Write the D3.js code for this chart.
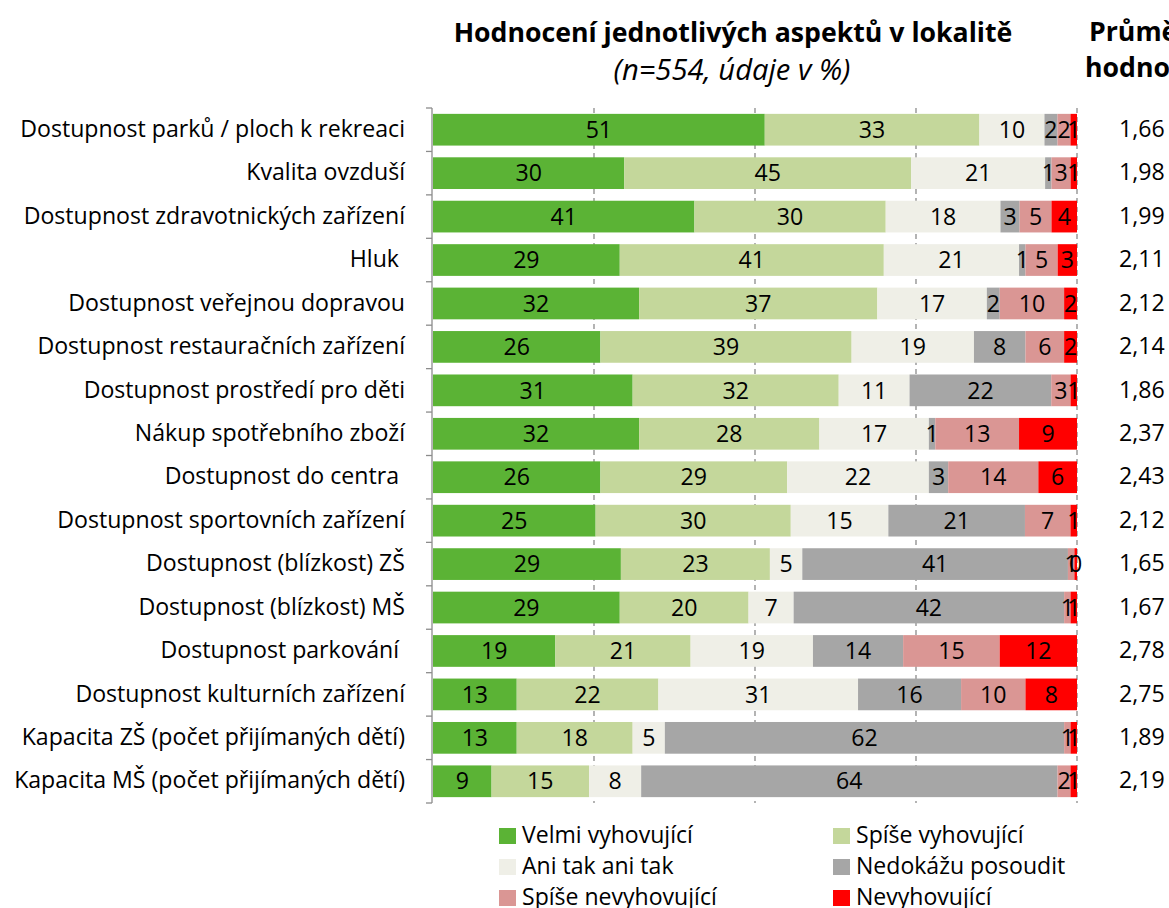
<!DOCTYPE html>
<html>
<head>
<meta charset="utf-8">
<script src="https://cdn.jsdelivr.net/npm/d3@7"></script>
<style>
  body { margin: 0; background: #fff; }
  svg { display: block; font-family: "Open Sans", Lato, sans-serif; }
</style>
</head>
<body>
<div id="chart"></div>
<script>
// categories (top to bottom)
const categories = [
    "Dostupnost parků / ploch k rekreaci",
    "Kvalita ovzduší",
    "Dostupnost zdravotnických zařízení",
    "Hluk ",
    "Dostupnost veřejnou dopravou",
    "Dostupnost restauračních zařízení",
    "Dostupnost prostředí pro děti",
    "Nákup spotřebního zboží",
    "Dostupnost do centra ",
    "Dostupnost sportovních zařízení",
    "Dostupnost (blízkost) ZŠ",
    "Dostupnost (blízkost) MŠ",
    "Dostupnost parkování ",
    "Dostupnost kulturních zařízení",
    "Kapacita ZŠ (počet přijímaných dětí)",
    "Kapacita MŠ (počet přijímaných dětí)"
];

const seriesNames = ["Velmi vyhovující", "Spíše vyhovující", "Ani tak ani tak",
    "Nedokážu posoudit", "Spíše nevyhovující", "Nevyhovující"];
const colors = ["#5bb335", "#c4d79b", "#efefe7", "#a6a6a6", "#da9694", "#ff0000"];

// one array per series, same order as categories
const velmi = [51, 30, 41, 29, 32, 26, 31, 32, 26, 25, 29, 29, 19, 13, 13, 9];
const spiseVyh = [33, 45, 30, 41, 37, 39, 32, 28, 29, 30, 23, 20, 21, 22, 18, 15];
const aniTak = [10, 21, 18, 21, 17, 19, 11, 17, 22, 15, 5, 7, 19, 31, 5, 8];
const nedokazu = [2, 1, 3, 1, 2, 8, 22, 1, 3, 21, 41, 42, 14, 16, 62, 64];
const spiseNevyh = [2, 3, 5, 5, 10, 6, 3, 13, 14, 7, 1, 1, 15, 10, 1, 2];
const nevyh = [1, 1, 4, 3, 2, 2, 1, 9, 6, 1, 0.4, 1, 12, 8, 1, 1];

const averages = ["1,66", "1,98", "1,99", "2,11", "2,12", "2,14", "1,86", "2,37",
    "2,43", "2,12", "1,65", "1,67", "2,78", "2,75", "1,89", "2,19"];

const gridTicks = [0.25, 0.5, 0.75, 1];

const width = 1169, height = 908;
const margin = { top: 108, right: 91, bottom: 105, left: 433 };

const series = [velmi, spiseVyh, aniTak, nedokazu, spiseNevyh, nevyh];

// build rows and normalise to 100 % like excel does
const rows = categories.map((c, i) => {
    const vals = series.map(s => s[i]);
    const total = d3.sum(vals);
    let acc = 0;
    return {
        cat: c,
        segs: vals.map((v, k) => {
            const seg = { key: k, value: v, x0: acc / total, x1: (acc + v) / total };
            acc += v;
            return seg;
        })
    };
});

const svg = d3.select("#chart")
    .append("svg")
    .attr("width", width)
    .attr("height", height);

// pick a font size so a sample string gets the width seen in the picture
function fitSize(sample, target, weight, style) {
    const t = svg.append("text")
        .style("font-size", "20px")
        .style("font-weight", weight || "normal")
        .style("font-style", style || "normal")
        .text(sample);
    const w = t.node().getComputedTextLength();
    t.remove();
    return 20 * target / w;
}

const labelSize = fitSize("Dostupnost parků / ploch k rekreaci", 385);
const titleSize = fitSize("Hodnocení jednotlivých aspektů v lokalitě", 559, "bold");
const subSize = fitSize("(n=554, údaje v %)", 237, "normal", "italic");
const legendSize = fitSize("Velmi vyhovující", 171);

const x = d3.scaleLinear()
    .domain([0, 1])
    .range([margin.left, width - margin.right - 1]);

const y = d3.scaleBand()
    .domain(categories)
    .range([margin.top, height - margin.bottom])
    .paddingInner(0.27)
    .paddingOuter(0.135);

// dashed vertical gridlines
svg.append("g")
    .selectAll("line")
    .data(gridTicks)
    .join("line")
    .attr("x1", d => x(d)).attr("x2", d => x(d))
    .attr("y1", margin.top).attr("y2", height - margin.bottom)
    .attr("stroke", "#8c8c8c")
    .attr("stroke-width", 1.3)
    .attr("stroke-dasharray", "5,4");

// bars
let bar = svg.selectAll(".bar")
    .data(rows)
    .join("g")
    .attr("class", "bar")
    .attr("transform", d => `translate(0,${y(d.cat)})`);

bar.selectAll("rect")
    .data(d => d.segs)
    .join("rect")
    .attr("x", d => x(d.x0))
    .attr("width", d => x(d.x1) - x(d.x0))
    .attr("height", y.bandwidth())
    .attr("fill", d => colors[d.key]);

bar.selectAll("text")
    .data(d => d.segs)
    .join("text")
    .text(d => Math.round(d.value))
    .attr("x", d => (x(d.x0) + x(d.x1)) / 2)
    .attr("y", y.bandwidth() / 2 + 2)
    .attr("text-anchor", "middle")
    .attr("dominant-baseline", "middle")
    .style("font-size", labelSize + "px")
    .style("fill", "#000");

// left axis with category boundary ticks
const axisG = svg.append("g");
axisG.append("line")
    .attr("x1", margin.left - 1).attr("x2", margin.left - 1)
    .attr("y1", margin.top).attr("y2", height - margin.bottom)
    .attr("stroke", "#8c8c8c").attr("stroke-width", 1.3);
const bounds = d3.range(categories.length + 1).map(i => margin.top + i * y.step());
axisG.selectAll(".tk")
    .data(bounds)
    .join("line")
    .attr("class", "tk")
    .attr("x1", margin.left - 7).attr("x2", margin.left - 1)
    .attr("y1", d => d).attr("y2", d => d)
    .attr("stroke", "#8c8c8c").attr("stroke-width", 1.3);

// category labels
svg.append("g")
    .selectAll("text")
    .data(categories)
    .join("text")
    .text(d => d)
    .attr("x", 405)
    .attr("y", d => y(d) + y.bandwidth() / 2 + 1)
    .attr("text-anchor", "end")
    .attr("dominant-baseline", "middle")
    .attr("xml:space", "preserve")
    .style("font-size", labelSize + "px");

// averages column
svg.append("g")
    .selectAll("text")
    .data(averages)
    .join("text")
    .text(d => d)
    .attr("x", 1119)
    .attr("y", (d, i) => y(categories[i]) + y.bandwidth() / 2 + 1)
    .attr("dominant-baseline", "middle")
    .style("font-size", labelSize + "px");

// titles
svg.append("text")
    .attr("x", 733).attr("y", 42)
    .attr("text-anchor", "middle")
    .style("font-size", titleSize + "px").style("font-weight", "bold")
    .text("Hodnocení jednotlivých aspektů v lokalitě");

svg.append("text")
    .attr("x", 732).attr("y", 80)
    .attr("text-anchor", "middle")
    .style("font-size", subSize + "px").style("font-style", "italic")
    .text("(n=554, údaje v %)");

svg.append("text")
    .attr("x", 1089).attr("y", 41)
    .style("font-size", titleSize + "px").style("font-weight", "bold")
    .text("Průměrná");
svg.append("text")
    .attr("x", 1085).attr("y", 77)
    .style("font-size", titleSize + "px").style("font-weight", "bold")
    .text("hodnota");

// legend
const legend = svg.append("g")
    .selectAll("g")
    .data(seriesNames)
    .join("g")
    .attr("transform", (d, i) => `translate(${i % 2 === 0 ? 499 : 833},${836 + Math.floor(i / 2) * 31})`);

legend.append("rect")
    .attr("x", 0).attr("y", -8)
    .attr("width", 17).attr("height", 16)
    .attr("fill", (d, i) => colors[i]);

legend.append("text")
    .text(d => d)
    .attr("x", 23)
    .attr("y", 1)
    .attr("dominant-baseline", "middle")
    .style("font-size", legendSize + "px");
</script>
</body>
</html>
